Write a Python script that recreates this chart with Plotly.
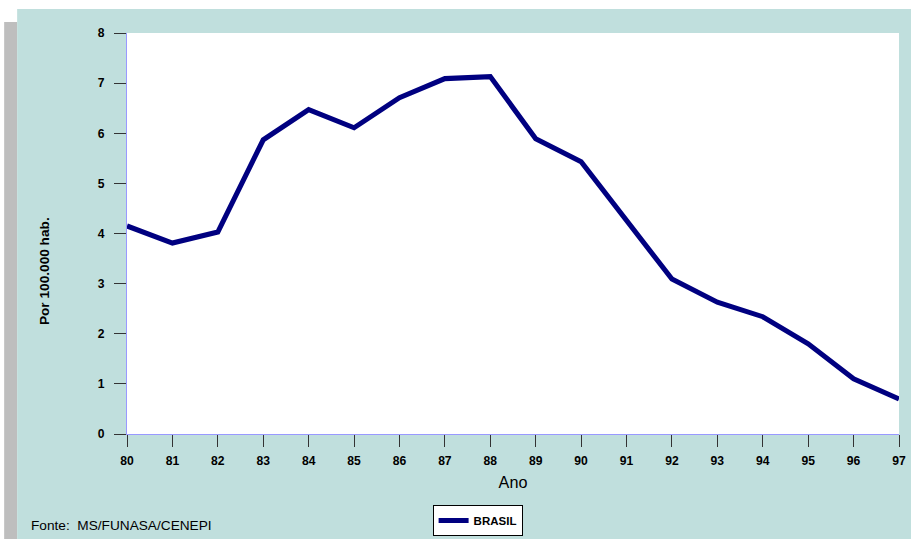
import plotly.graph_objects as go

years = [80, 81, 82, 83, 84, 85, 86, 87, 88, 89, 90, 91, 92, 93, 94, 95, 96, 97]
brasil = [4.15, 3.81, 4.03, 5.87, 6.47, 6.11, 6.71, 7.09, 7.13, 5.89, 5.43, 4.25, 3.09, 2.63, 2.34, 1.80, 1.10, 0.70]
y_ticks = [0, 1, 2, 3, 4, 5, 6, 7, 8]

# reference-pixel layout (911 x 539 picture)
RW, RH = 911, 539
W, H = 918, 548          # figure size compensating the capture scaling
KX, KY = W / RW, H / RH
KF = (KX + KY) / 2

L, R, T, B = 126, 12, 32, 106   # in reference pixels
pw, ph = RW - L - R, RH - T - B

def px(x):
    return (x - L) / pw

def py(y):
    return (RH - B - y) / ph

FONT = "Liberation Sans, Arial, sans-serif"
TEAL = "#C0DFDD"

fig = go.Figure()
fig.add_trace(go.Scatter(
    x=years, y=brasil, mode="lines", name="<b>BRASIL</b>",
    line=dict(color="#000080", width=5 * KF),
))

fig.update_layout(
    width=W, height=H,
    margin=dict(l=L * KX, r=R * KX, t=T * KY, b=B * KY),
    paper_bgcolor="white",
    plot_bgcolor="rgba(0,0,0,0)",
    font=dict(family=FONT, color="black"),
    showlegend=True,
    legend=dict(
        x=px(432), y=py(504), xanchor="left", yanchor="top",
        bgcolor="white", bordercolor="black", borderwidth=1,
        font=dict(size=11.5, family=FONT, color="black"),
        itemwidth=30,
    ),
    shapes=[
        dict(type="rect", xref="paper", yref="paper", layer="below",
             x0=px(3), x1=px(16), y0=py(545), y1=py(21),
             fillcolor="#BEBEBE", line=dict(width=0)),
        dict(type="rect", xref="paper", yref="paper", layer="below",
             x0=px(16), x1=px(920), y0=py(545), y1=py(8),
             fillcolor=TEAL, line=dict(width=0)),
        dict(type="rect", xref="paper", yref="paper", layer="below",
             x0=0, x1=1, y0=0, y1=1,
             fillcolor="white", line=dict(width=0)),
    ],
    annotations=[
        dict(text="<b>Por 100.000 hab.</b>", xref="paper", yref="paper",
             x=px(43), y=py(270), textangle=-90, showarrow=False,
             font=dict(size=13.5 * KF, family=FONT, color="black"),
             xanchor="center", yanchor="middle"),
        dict(text="Fonte:  MS/FUNASA/CENEPI", xref="paper", yref="paper",
             x=px(28), y=py(524), showarrow=False,
             font=dict(size=13.5 * KF, family=FONT, color="black"),
             xanchor="left", yanchor="middle"),
    ],
)

fig.update_xaxes(
    range=[80, 97], tickmode="array", tickvals=years,
    ticktext=[f"<b>{y}</b>" for y in years],
    showgrid=False, zeroline=False,
    showline=True, linecolor="#9999FF", linewidth=1,
    ticks="outside", ticklen=12 * KY, tickcolor="#333333", tickwidth=1,
    tickfont=dict(size=12 * KF, family=FONT, color="black"),
    ticklabelstandoff=3,
    title=dict(text="Ano", font=dict(size=16 * KF, family=FONT, color="black"), standoff=9),
)
fig.update_yaxes(
    range=[0, 8], tickmode="array", tickvals=y_ticks,
    ticktext=[f"<b>{v}</b>" for v in y_ticks],
    showgrid=False, zeroline=False,
    showline=True, linecolor="#9999FF", linewidth=1,
    ticks="outside", ticklen=12 * KX, tickcolor="#333333", tickwidth=1,
    tickfont=dict(size=12 * KF, family=FONT, color="black"),
    ticklabelstandoff=7,
)

page_css = (
    "var s=document.createElement('style');"
    "s.textContent='html,body{margin:0;padding:0;overflow:hidden;}"
    ".plotly-graph-div{position:absolute;left:0;top:0;}';"
    "document.head.appendChild(s);"
)

fig.write_html("out.html", post_script=page_css,
               config={"displayModeBar": False, "staticPlot": True})
